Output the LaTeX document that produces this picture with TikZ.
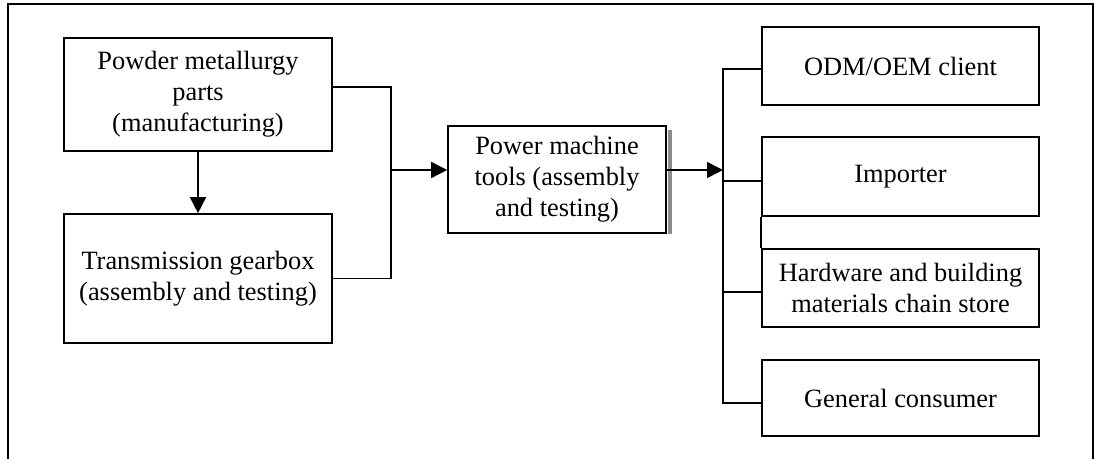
\documentclass[tikz,border=0pt]{standalone}
\usepackage{fontspec}
\setmainfont{Liberation Serif}
\usetikzlibrary{arrows.meta,calc}

\begin{document}
\begin{tikzpicture}[x=0.5pt,y=-0.5pt,
  box/.style={draw=black,line width=0.8pt,fill=white,align=center,
    inner sep=0pt,font=\fontsize{13.2}{15.5}\selectfont},
  link/.style={draw=black,line width=0.8pt},
  flow/.style={link,-{Triangle[length=8pt,width=8pt]}},
  frame/.style={draw=black,line width=1.1pt},
  shadowgray/.style={fill=black!45}]

\useasboundingbox (0,0) rectangle (1097,459);

% open outer frame
\coordinate (fbl) at (8,459);
\coordinate (ftl) at (8,4);
\coordinate (ftr) at (1093,4);
\coordinate (fbr) at (1093,459);
\draw[frame] (fbl) -- (ftl) -- (ftr) -- (fbr);

% production side
\node[box,minimum width=134pt,minimum height=56.5pt] (pm) at (198,94.5)
  {\raisebox{-1.5pt}{Powder metallurgy}\\\raisebox{-1.5pt}{parts}\\\raisebox{-1.5pt}{(manufacturing)}};
\node[box,minimum width=134pt,minimum height=64.5pt] (tg) at (198,278.5)
  {Transmission gearbox\\(assembly and testing)};

% assembly box with its shadow
\node[box,minimum width=109pt,minimum height=53.5pt] (pw) at (557,179.5)
  {\raisebox{-1.5pt}{Power machine}\\\raisebox{-1.5pt}{tools (assembly}\\\raisebox{-1.5pt}{and testing)}};
\fill[shadowgray] ($(pw.north east)+(1,5)$) rectangle ($(pw.south east)+(5,0)$);

% customers
\node[box,minimum width=138.5pt,minimum height=39pt] (odm) at (900.5,66) {ODM/OEM client};
\node[box,minimum width=138.5pt,minimum height=39.5pt] (imp) at (900.5,176.5) {\raisebox{-2.5pt}{Importer}};
\node[box,minimum width=138.5pt,minimum height=39pt] (hw) at (900.5,288)
  {\raisebox{-1.5pt}{Hardware and building}\\\raisebox{-1.5pt}{materials chain store}};
\node[box,minimum width=138.5pt,minimum height=38pt] (gc) at (900.5,398) {General consumer};

% parts to gearbox
\draw[flow] (pm.south) -- (tg.north);

% merge of the two production lines
\coordinate (pmout) at ($(pm.east)+(0,-7.5)$);
\coordinate (jn) at (391,170);
\draw[link] (pmout) -- (pmout -| jn) -- (tg.east -| jn) -- (tg.east);
\draw[flow] (jn) -- (pw.west |- jn);

% distribution bus
\coordinate (bus) at (723,170);
\draw[flow] (pw.east |- bus) -- (bus);
\coordinate (odmin) at ($(odm.west)+(0,3)$);
\coordinate (impin) at ($(imp.west)+(0,4.5)$);
\coordinate (hwin) at ($(hw.west)+(0,4)$);
\coordinate (gcin) at ($(gc.west)+(0,5)$);
\draw[link] (odmin) -- (odmin -| bus) -- (gcin -| bus) -- (gcin);
\draw[link] (impin -| bus) -- (impin);
\draw[link] (hwin -| bus) -- (hwin);
\draw[link] (imp.south west) -- (hw.north west);

\end{tikzpicture}
\end{document}
